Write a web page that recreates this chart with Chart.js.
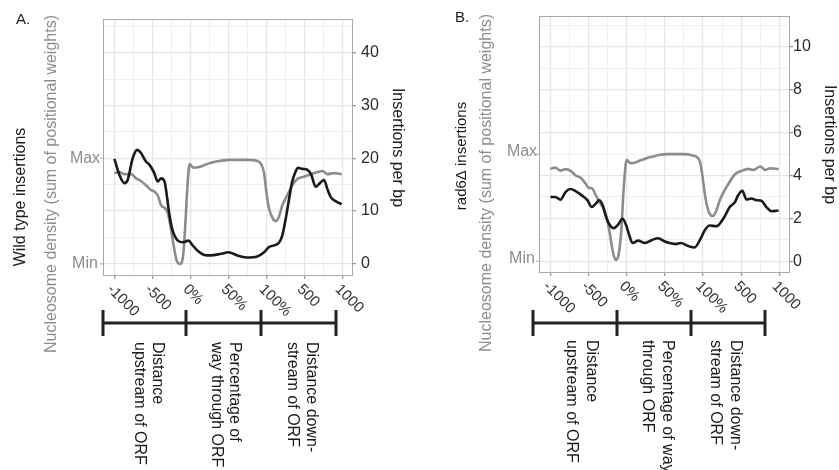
<!DOCTYPE html>
<html>
<head>
<meta charset="utf-8">
<script src="https://cdn.jsdelivr.net/npm/chart.js@4.4.1/dist/chart.umd.min.js"></script>
<style>
  html, body { margin: 0; padding: 0; background: #fff; }
  #wrap { position: relative; width: 839px; height: 470px; overflow: hidden; }
  canvas { position: absolute; top: 0; }
</style>
</head>
<body>
<div id="wrap">
  <canvas id="chartA" width="420" height="470" style="left:0"></canvas>
  <canvas id="chartB" width="419" height="470" style="left:420px"></canvas>
</div>
<script>
// x axis positions 0..6 stand for -1000, -500, 0%, 50%, 100%, 500, 1000
const xTickLabels = ['-1000', '-500', '0%', '50%', '100%', '500', '1000'];
const nucLabels = ['Min', 'Max'];
const regionLabelsA = [['Distance', 'upstream of ORF'], ['Percentage of', 'way through ORF'], ['Distance down-', 'stream of ORF']];
const regionLabelsB = [['Distance', 'upstream of ORF'], ['Percentage of way', 'through ORF'], ['Distance down-', 'stream of ORF']];

// panel A - wild type
const wtInsX = [0, 0.13, 0.26, 0.35, 0.48, 0.6, 0.7, 0.83, 0.92, 1.05, 1.14, 1.23, 1.32, 1.39, 1.45, 1.53, 1.67, 1.8, 1.95, 2.06, 2.19, 2.37, 2.54, 2.8, 3.0, 3.24, 3.5, 3.76, 3.94, 4.07, 4.2, 4.33, 4.42, 4.51, 4.6, 4.68, 4.77, 4.83, 4.95, 5.08, 5.18, 5.3, 5.41, 5.52, 5.6, 5.69, 5.82, 5.98];
const wtIns = [19.9, 16.9, 15.3, 15.9, 20.0, 21.6, 21.0, 19.4, 18.8, 17.2, 15.6, 16.2, 15.6, 12.4, 9.2, 6.4, 4.4, 4.1, 4.4, 3.5, 2.5, 1.7, 1.6, 1.9, 2.2, 1.6, 1.2, 1.4, 2.2, 3.2, 3.5, 4.0, 5.4, 8.6, 12.4, 15.6, 17.5, 18.2, 18.0, 17.8, 16.9, 14.6, 15.3, 15.9, 14.3, 12.7, 11.9, 11.3];
const wtNucX = [0, 0.13, 0.26, 0.44, 0.57, 0.7, 0.83, 0.96, 1.05, 1.14, 1.23, 1.32, 1.4, 1.47, 1.56, 1.64, 1.73, 1.81, 1.87, 1.93, 1.98, 2.08, 2.25, 2.43, 2.68, 3.03, 3.5, 3.76, 3.87, 3.94, 4.01, 4.07, 4.16, 4.24, 4.33, 4.42, 4.55, 4.68, 4.82, 4.99, 5.17, 5.35, 5.48, 5.61, 5.78, 5.98];
const wtNuc = [17.2, 17.4, 17.0, 17.0, 16.2, 15.7, 14.9, 14.0, 13.7, 13.0, 11.1, 10.6, 9.8, 7.3, 3.5, 0.6, 0.0, 1.6, 7.9, 15.6, 18.9, 18.2, 18.4, 18.9, 19.4, 19.7, 19.7, 19.5, 18.8, 17.2, 13.0, 10.5, 8.7, 8.1, 8.9, 11.1, 13.0, 14.9, 16.1, 16.5, 17.0, 17.4, 17.6, 17.0, 17.2, 17.0];
const wtRightTicks = [0, 10, 20, 30, 40];
const wtNucLevels = [0, 20];

// panel B - rad6 deletion
const radInsX = [0, 0.13, 0.26, 0.4, 0.53, 0.66, 0.84, 0.97, 1.08, 1.19, 1.28, 1.37, 1.46, 1.55, 1.66, 1.77, 1.89, 1.98, 2.07, 2.15, 2.3, 2.48, 2.65, 2.82, 3.0, 3.12, 3.29, 3.42, 3.6, 3.78, 3.91, 4.04, 4.17, 4.35, 4.53, 4.7, 4.84, 4.92, 5.03, 5.14, 5.27, 5.4, 5.53, 5.66, 5.8, 5.98];
const radIns = [3.0, 3.0, 2.87, 3.24, 3.37, 3.27, 3.05, 2.85, 2.53, 2.69, 2.85, 2.61, 2.06, 1.7, 1.54, 1.7, 1.98, 1.7, 1.19, 0.85, 0.96, 0.85, 0.98, 1.07, 0.92, 0.85, 0.8, 0.85, 0.72, 0.64, 0.96, 1.43, 1.67, 1.63, 1.98, 2.53, 2.77, 3.08, 3.29, 2.88, 2.93, 2.85, 2.82, 2.53, 2.33, 2.37];
const radNucX = [0, 0.13, 0.26, 0.4, 0.53, 0.66, 0.79, 0.92, 1.0, 1.09, 1.19, 1.28, 1.37, 1.46, 1.55, 1.64, 1.71, 1.78, 1.86, 1.92, 2.0, 2.09, 2.22, 2.35, 2.52, 2.7, 2.87, 3.07, 3.47, 3.73, 3.87, 3.93, 3.98, 4.04, 4.1, 4.17, 4.26, 4.35, 4.44, 4.57, 4.7, 4.84, 5.01, 5.19, 5.32, 5.5, 5.63, 5.76, 5.98];
const radNuc = [4.31, 4.37, 4.23, 4.3, 4.22, 4.0, 3.9, 3.63, 3.43, 3.4, 3.08, 2.77, 2.53, 2.14, 1.35, 0.41, 0.06, 0.25, 1.5, 3.4, 4.73, 4.58, 4.6, 4.7, 4.81, 4.89, 4.97, 5.0, 5.0, 4.94, 4.81, 4.58, 4.03, 3.24, 2.61, 2.22, 2.11, 2.37, 2.85, 3.32, 3.71, 4.06, 4.22, 4.31, 4.26, 4.42, 4.26, 4.34, 4.3];
const radRightTicks = [0, 2, 4, 6, 8, 10];
const radNucLevels = [0, 5];

const FONT = '"Liberation Sans", Arial, Helvetica, sans-serif';
const BLACK = '#1a1a1a';
const GREY = '#8c8c8c';

function toPoints(xs, ys) {
  return xs.map((x, i) => ({ x: x, y: ys[i] }));
}

function text(ctx, str, x, y, angle, align, baseline, size, color) {
  ctx.save();
  ctx.translate(x, y);
  ctx.rotate(angle);
  ctx.font = size + 'px ' + FONT;
  ctx.fillStyle = color;
  ctx.textAlign = align;
  ctx.textBaseline = baseline;
  ctx.fillText(str, 0, 0);
  ctx.restore();
}

function decor(p) {
  return {
    id: 'decor',
    afterDraw(chart) {
      const ctx = chart.ctx;
      const a = chart.chartArea;
      const xs = chart.scales.x, ys = chart.scales.y;
      ctx.save();
      // panel border
      ctx.strokeStyle = '#a9a9a9';
      ctx.lineWidth = 1;
      ctx.strokeRect(a.left + 0.5, a.top + 0.5, a.right - a.left - 1, a.bottom - a.top - 1);

      // Max / Min on the left
      p.nucLevels.forEach((v, i) => {
        const py = ys.getPixelForValue(v);
        ctx.beginPath();
        ctx.moveTo(a.left - 3, py);
        ctx.lineTo(a.left, py);
        ctx.stroke();
        text(ctx, nucLabels[i], p.nucLabelX, py + p.nucLabelDy, 0, 'center', 'middle', 16, GREY);
      });

      // x tick labels, turned 45 degrees
      xTickLabels.forEach((lab, i) => {
        const px = xs.getPixelForValue(i);
        text(ctx, lab, px + p.xLabDx, a.bottom + p.xLabDy, Math.PI / 4, 'left', 'middle', 15, '#333');
      });

      // region bracket
      const bx = p.bracketX, by = p.bracketY;
      ctx.strokeStyle = '#222';
      ctx.lineWidth = 3;
      ctx.beginPath();
      ctx.moveTo(bx[0], by);
      ctx.lineTo(bx[bx.length - 1], by);
      bx.forEach(v => { ctx.moveTo(v, by - 13); ctx.lineTo(v, by + 13); });
      ctx.stroke();

      p.regionLabels.forEach((lines, i) => {
        lines.forEach((ln, j) => {
          text(ctx, ln, p.regionTextX[i][j], p.regionTextY, Math.PI / 2, 'left', 'middle', 16, BLACK);
        });
      });

      // left titles
      text(ctx, p.leftTitle, p.leftTitleX, p.leftTitleY, -Math.PI / 2, 'center', 'middle', p.leftTitleSize, BLACK);
      text(ctx, 'Nucleosome density (sum of positional weights)', p.nucTitleX, p.nucTitleY, -Math.PI / 2, 'center', 'middle', 16, GREY);

      // panel letter
      text(ctx, p.letter, p.letterX, p.letterY, 0, 'left', 'top', 15, BLACK);
      ctx.restore();
    }
  };
}

function makePanel(id, p) {
  const isMajorY = v => p.rightTicks.includes(v);
  const yGrid = [];
  for (let v = 0; v <= p.yGridMax; v += p.yGridStep) yGrid.push(v);
  const xGrid = [];
  for (let v = 0; v <= 6; v += 0.5) xGrid.push(v);

  return new Chart(document.getElementById(id), {
    type: 'line',
    data: {
      datasets: [
        {
          data: toPoints(p.insX, p.ins),
          borderColor: BLACK,
          borderWidth: 2.6,
          pointRadius: 0,
          cubicInterpolationMode: 'monotone',
          fill: false
        },
        {
          data: toPoints(p.nucX, p.nuc),
          borderColor: GREY,
          borderWidth: 2.6,
          pointRadius: 0,
          cubicInterpolationMode: 'monotone',
          fill: false
        }
      ]
    },
    options: {
      responsive: false,
      animation: false,
      layout: { padding: { left: p.padLeft, top: p.padTop, right: 0, bottom: 0 } },
      plugins: {
        legend: { display: false },
        tooltip: { enabled: false }
      },
      scales: {
        x: {
          type: 'linear',
          min: -0.3,
          max: 6.28,
          afterBuildTicks: s => { s.ticks = xGrid.map(v => ({ value: v })); },
          afterFit: s => { s.height = p.xAxisHeight; },
          ticks: { display: false },
          grid: {
            color: c => (c.tick && Number.isInteger(c.tick.value)) ? '#e6e6e6' : '#efefef',
            lineWidth: c => (c.tick && Number.isInteger(c.tick.value)) ? 1.3 : 1,
            tickColor: c => (c.tick && Number.isInteger(c.tick.value)) ? '#999' : 'rgba(0,0,0,0)',
            tickLength: 3
          },
          border: { display: false }
        },
        y: {
          type: 'linear',
          position: 'right',
          min: p.yMin,
          max: p.yMax,
          afterBuildTicks: s => { s.ticks = yGrid.map(v => ({ value: v })); },
          afterFit: s => { s.width = p.yAxisWidth; },
          ticks: {
            autoSkip: false,
            padding: p.yTickPad,
            color: '#2b2b2b',
            font: { family: FONT, size: 16 },
            callback: v => isMajorY(v) ? String(v) : ''
          },
          grid: {
            color: c => (c.tick && isMajorY(c.tick.value)) ? '#e6e6e6' : '#efefef',
            lineWidth: c => (c.tick && isMajorY(c.tick.value)) ? 1.3 : 1,
            tickColor: c => (c.tick && isMajorY(c.tick.value)) ? '#999' : 'rgba(0,0,0,0)',
            tickLength: 3
          },
          border: { display: false },
          title: {
            display: true,
            text: 'Insertions per bp',
            color: BLACK,
            font: { family: FONT, size: 16 },
            padding: { top: p.yTitlePad, bottom: 0 }
          }
        }
      }
    },
    plugins: [decor(p)]
  });
}

makePanel('chartA', {
  insX: wtInsX, ins: wtIns, nucX: wtNucX, nuc: wtNuc,
  rightTicks: wtRightTicks, nucLevels: wtNucLevels,
  yMin: -2.3, yMax: 46.4, yGridStep: 5, yGridMax: 45,
  padLeft: 103, padTop: 19, xAxisHeight: 194, yAxisWidth: 67, yTickPad: 5, yTitlePad: 13,
  nucLabelX: 85, nucLabelDy: 0,
  xLabDx: -5, xLabDy: 11,
  bracketX: [103, 186, 261, 336], bracketY: 323,
  regionLabels: regionLabelsA, regionTextX: [[157, 139], [234, 216], [311, 292]], regionTextY: 342,
  leftTitle: 'Wild type insertions', leftTitleX: 21, leftTitleY: 197, leftTitleSize: 16,
  nucTitleX: 52, nucTitleY: 184,
  letter: 'A.', letterX: 16, letterY: 12
});

makePanel('chartB', {
  insX: radInsX, ins: radIns, nucX: radNucX, nuc: radNuc,
  rightTicks: radRightTicks, nucLevels: radNucLevels,
  yMin: -0.55, yMax: 11.45, yGridStep: 1, yGridMax: 11,
  padLeft: 119, padTop: 16, xAxisHeight: 197, yAxisWidth: 49, yTickPad: 0, yTitlePad: 0,
  nucLabelX: 102, nucLabelDy: -3,
  xLabDx: -5, xLabDy: 11,
  bracketX: [113, 197, 271, 345], bracketY: 323,
  regionLabels: regionLabelsB, regionTextX: [[171, 151], [247, 227], [315, 295]], regionTextY: 340,
  leftTitle: 'rad6Δ insertions', leftTitleX: 42, leftTitleY: 156, leftTitleSize: 15,
  nucTitleX: 67, nucTitleY: 183,
  letter: 'B.', letterX: 35, letterY: 10
});
</script>
</body>
</html>
